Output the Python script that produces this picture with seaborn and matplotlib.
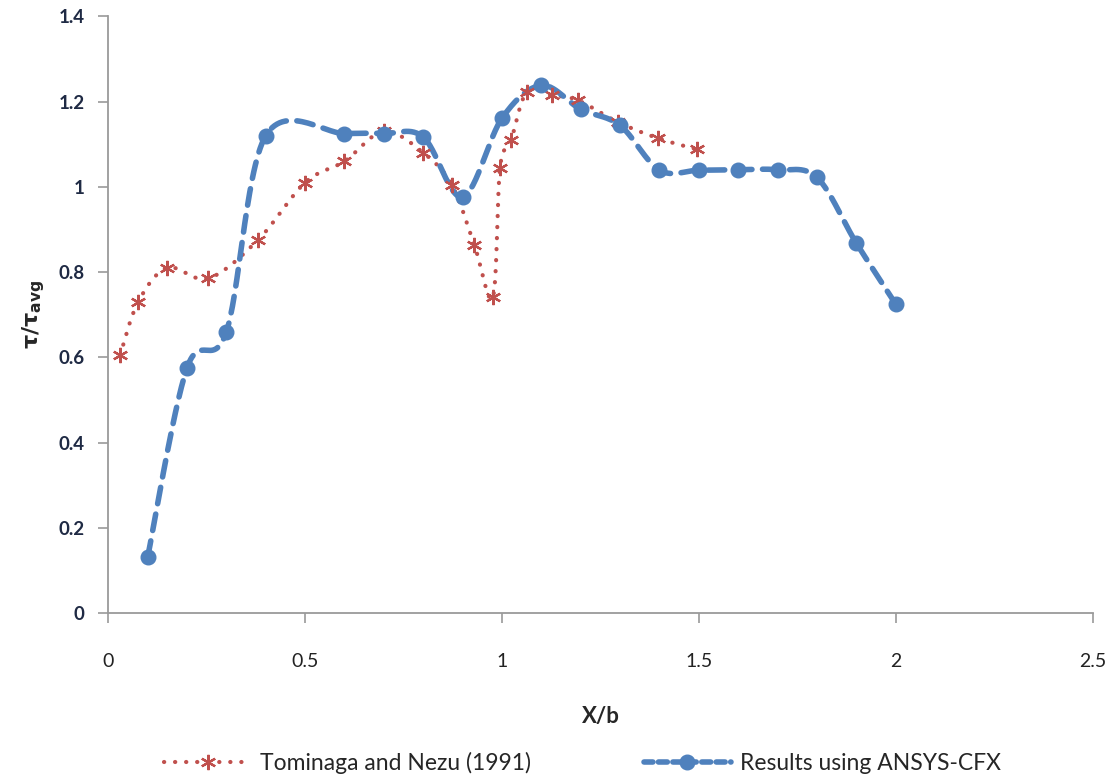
import numpy as np
import matplotlib
matplotlib.use("Agg")
import matplotlib.pyplot as plt
from matplotlib.lines import Line2D
import seaborn as sns
import pandas as pd

# ---- data ----
tom_x = [0.03, 0.076, 0.15, 0.254, 0.38, 0.50, 0.60, 0.70, 0.80, 0.873, 0.93, 0.977,
         0.995, 1.023, 1.063, 1.127, 1.193, 1.294, 1.396, 1.495]
tom_y = [0.605, 0.73, 0.81, 0.785, 0.875, 1.01, 1.06, 1.13, 1.08, 1.004, 0.863, 0.741,
         1.044, 1.109, 1.222, 1.215, 1.203, 1.152, 1.114, 1.088]

cfx_x = [0.1, 0.2, 0.3, 0.4, 0.6, 0.7, 0.8, 0.9, 1.0, 1.1, 1.2, 1.3, 1.4, 1.5, 1.6,
         1.7, 1.8, 1.9, 2.0]
cfx_y = [0.131, 0.575, 0.66, 1.12, 1.125, 1.125, 1.117, 0.976, 1.161, 1.238, 1.182,
         1.144, 1.039, 1.039, 1.04, 1.04, 1.022, 0.868, 0.725]

x_ticks = [0, 0.5, 1, 1.5, 2, 2.5]
x_tick_labels = ["0", "0.5", "1", "1.5", "2", "2.5"]
y_ticks = [0, 0.2, 0.4, 0.6, 0.8, 1.0, 1.2, 1.4]
y_tick_labels = ["0", "0.2", "0.4", "0.6", "0.8", "1", "1.2", "1.4"]

labels = ["Tominaga and Nezu (1991)", "Results using ANSYS-CFX"]

RED = "#C0504D"
BLUE = "#4F81BD"


def smooth(xs, ys, n=30):
    """Excel-style smoothed line (Bezier through points, tension 1/6)."""
    P = np.column_stack([xs, ys]).astype(float)
    out = []
    m = len(P)
    for i in range(m - 1):
        p0 = P[i - 1] if i > 0 else P[i]
        p1 = P[i]
        p2 = P[i + 1]
        p3 = P[i + 2] if i + 2 < m else P[i + 1]
        c1 = p1 + (p2 - p0) / 6.0
        c2 = p2 - (p3 - p1) / 6.0
        t = np.linspace(0, 1, n, endpoint=(i == m - 2))[:, None]
        seg = ((1 - t) ** 3) * p1 + 3 * ((1 - t) ** 2) * t * c1 + 3 * (1 - t) * t ** 2 * c2 + t ** 3 * p2
        out.append(seg)
    arr = np.vstack(out)
    return pd.DataFrame({"x": arr[:, 0], "y": arr[:, 1]})


sns.set_theme(style="white")
plt.rcParams["font.family"] = ["Lato", "DejaVu Sans"]

fig = plt.figure(figsize=(11.16, 7.78), dpi=100)
ax = fig.add_axes([0.097, 0.212, 0.882, 0.767])

tom_s = smooth(tom_x, tom_y)
cfx_s = smooth(cfx_x, cfx_y)

RED_LS = (0, (0.05, 2.6))
sns.lineplot(data=tom_s, x="x", y="y", sort=False, estimator=None, ax=ax,
             color=RED, linewidth=3.0, linestyle=RED_LS)
ax.lines[-1].set_dash_capstyle("round")
sns.lineplot(data=cfx_s, x="x", y="y", sort=False, estimator=None, ax=ax,
             color=BLUE, linewidth=4.0, linestyle=(0, (3.0, 1.9)))
ax.lines[-1].set_dash_capstyle("round")

ax.plot(tom_x, tom_y, linestyle="none", marker=(6, 2, 0), markersize=11,
        markeredgewidth=1.6, color=RED, markeredgecolor=RED)
ax.plot(cfx_x, cfx_y, linestyle="none", marker="o", markersize=10.5,
        color=BLUE, markeredgecolor=BLUE)

ax.set_xlim(0, 2.5)
ax.set_ylim(0, 1.4)
ax.set_xticks(x_ticks)
ax.set_xticklabels(x_tick_labels, fontsize=14, color="#222222")
ax.set_yticks(y_ticks)
ax.set_yticklabels(y_tick_labels, fontsize=13.5, fontweight="bold", color="#1f2a44")

for s in ["top", "right"]:
    ax.spines[s].set_visible(False)
for s in ["left", "bottom"]:
    ax.spines[s].set_color("#9a9a9a")
    ax.spines[s].set_linewidth(1.3)
ax.tick_params(axis="both", direction="out", length=7, width=1.2, color="#9a9a9a",
               bottom=True, left=True)
ax.tick_params(axis="x", pad=22)
ax.tick_params(axis="y", pad=10)

ax.set_xlabel("X/b", fontsize=16, fontweight="bold", labelpad=26)
ax.set_ylabel(r"$\mathbf{\tau/\tau_{avg}}$", fontsize=16, labelpad=8)

handles = [
    Line2D([0], [0], color=RED, linewidth=3.0, linestyle=RED_LS,
           dash_capstyle="round", marker=(6, 2, 0), markersize=11, markeredgewidth=1.6),
    Line2D([0], [0], color=BLUE, linewidth=4.0, linestyle=(0, (1.6, 1.0)),
           dash_capstyle="round", marker="o", markersize=10.5),
]
fig.legend(handles, labels, loc="center", bbox_to_anchor=(0.522, 0.019), ncol=2,
           frameon=False, fontsize=16.5, handlelength=3.8, columnspacing=4.9,
           handletextpad=0.4)

fig.savefig("out.png", dpi=100)
